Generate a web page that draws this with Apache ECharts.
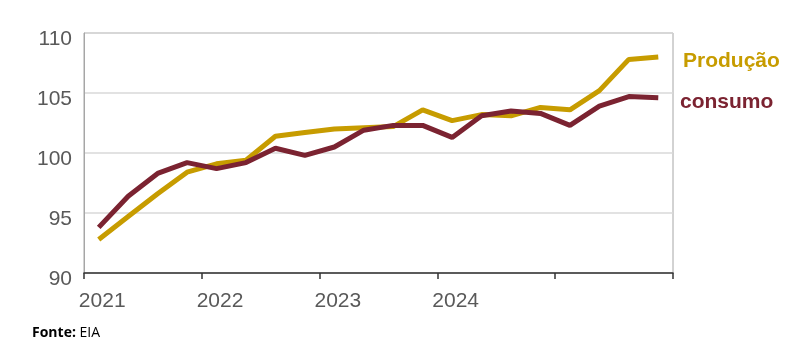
<!DOCTYPE html>
<html>
<head>
<meta charset="utf-8">
<script src="https://cdn.jsdelivr.net/npm/echarts@6/dist/echarts.min.js"></script>
<style>
  html, body { margin: 0; padding: 0; background: #fff; }
  #chart { width: 800px; height: 352px; }
</style>
</head>
<body>
<div id="chart"></div>
<script>
// trimestres 2021T1 .. 2025T4, rotulo so no primeiro trimestre de cada ano
const quarters = [
    '2021', '', '', '',
    '2022', '', '', '',
    '2023', '', '', '',
    '2024', '', '', '',
    '', '', '', ''
];
const producao = [92.8, 94.7, 96.6, 98.4, 99.1, 99.4, 101.4, 101.7, 102.0, 102.1,
    102.2, 103.6, 102.7, 103.2, 103.1, 103.8, 103.6, 105.2, 107.8, 108.0];
const consumo = [93.8, 96.4, 98.3, 99.2, 98.7, 99.2, 100.4, 99.8, 100.5, 101.9,
    102.3, 102.3, 101.3, 103.1, 103.5, 103.3, 102.3, 103.9, 104.7, 104.6];
const yTicks = { min: 90, max: 110, interval: 5 };

const gold = '#C79C00';
const wine = '#7B2331';

const chart = echarts.init(document.getElementById('chart'));
chart.setOption({
    animation: false,
    grid: { left: 84, right: 127, top: 33, bottom: 79, show: true, borderColor: '#a6a6a6', borderWidth: 1 },
    xAxis: {
        type: 'category',
        boundaryGap: true,
        data: quarters,
        axisLine: { lineStyle: { color: '#333', width: 1.5 } },
        axisTick: {
            show: true,
            alignWithLabel: false,
            interval: function (i) { return i % 4 === 0; },
            length: 6,
            lineStyle: { color: '#333', width: 1.5 }
        },
        axisLabel: {
            interval: 0,
            margin: 18,
            padding: [0, 0, 0, 7],
            color: '#595959',
            fontSize: 21,
            fontFamily: 'Liberation Sans'
        },
        splitLine: { show: false }
    },
    yAxis: {
        type: 'value',
        min: yTicks.min,
        max: yTicks.max,
        interval: yTicks.interval,
        axisLine: { show: true, lineStyle: { color: '#a6a6a6' } },
        axisTick: { show: false },
        axisLabel: {
            margin: 12,
            verticalAlign: 'top',
            lineHeight: 12,
            color: '#595959',
            fontSize: 21,
            fontFamily: 'Liberation Sans'
        },
        splitLine: { lineStyle: { color: '#d9d9d9', width: 1.5 } }
    },
    series: [
        {
            name: 'Produção',
            type: 'line',
            data: producao,
            symbol: 'none',
            lineStyle: { color: gold, width: 5 },
            z: 2
        },
        {
            name: 'consumo',
            type: 'line',
            data: consumo,
            symbol: 'none',
            lineStyle: { color: wine, width: 5 },
            z: 3
        }
    ],
    graphic: [
        {
            type: 'text', left: 683, top: 51,
            style: { text: 'Produção', fill: gold, font: 'bold 21px "Liberation Sans"' }
        },
        {
            type: 'text', left: 680, top: 92,
            style: { text: 'consumo', fill: wine, font: 'bold 21px "Liberation Sans"' }
        },
        {
            type: 'text', left: 32, top: 326,
            style: {
                text: '{b|Fonte:} EIA',
                fill: '#000',
                font: '14px "Open Sans"',
                rich: { b: { fontWeight: 'bold', fontSize: 14, fontFamily: 'Open Sans' } }
            }
        }
    ]
});
</script>
</body>
</html>
